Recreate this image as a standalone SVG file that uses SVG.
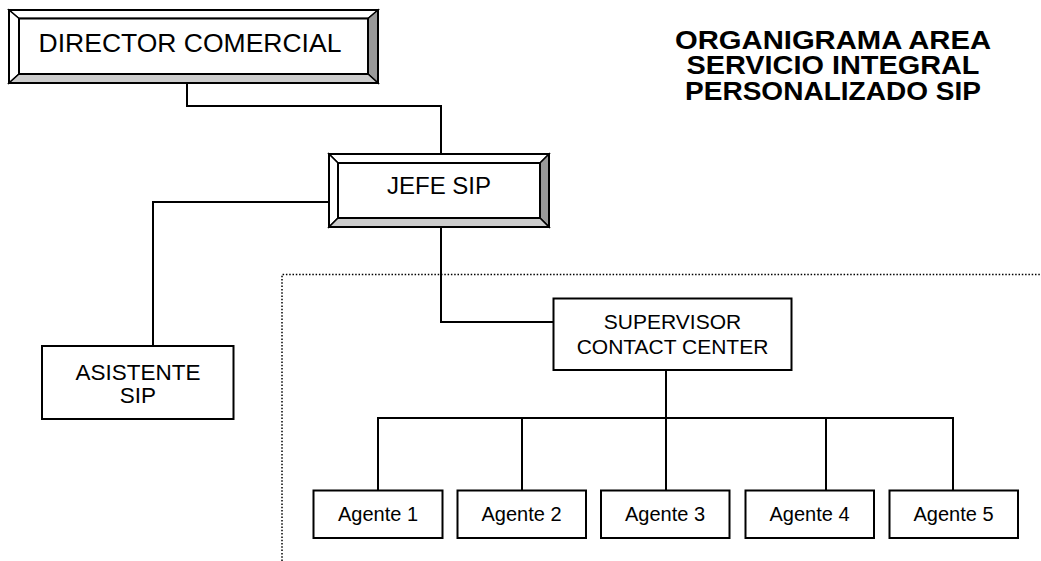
<svg xmlns="http://www.w3.org/2000/svg" width="1041" height="561" viewBox="0 0 1041 561">
  <style>
    .box { fill: #ffffff; stroke: #000000; stroke-width: 2; }
    .bevel-light { fill: #ffffff; stroke: #000000; stroke-width: 1.5; stroke-linejoin: miter; }
    .bevel-right { fill: #999999; stroke: #000000; stroke-width: 1.5; }
    .bevel-bottom { fill: #cccccc; stroke: #000000; stroke-width: 1.5; }
    .lbl { font-family: "Liberation Sans", Arial, sans-serif; fill: #000000; text-anchor: middle; }
    .title { font-family: "Liberation Sans", Arial, sans-serif; font-weight: bold; font-size: 26px; fill: #000000; text-anchor: middle; }
    .conn { fill: none; stroke: #000000; stroke-width: 2; }
    .dots { fill: none; stroke: #000000; stroke-width: 1.5; stroke-dasharray: 1.5 1.8; }
  </style>

  <rect width="1041" height="561" fill="#ffffff"/>

  <!-- dotted boundary of the contact center area -->
  <path class="dots" d="M282,561 V274.5 H1041"/>

  <!-- connectors -->
  <g id="connectors">
    <path class="conn" d="M187,83 V106 H441 V154"/>
    <path class="conn" d="M329,202 H153 V346"/>
    <path class="conn" d="M441,227 V322 H553"/>
    <path class="conn" d="M666,370 V418"/>
    <path class="conn" d="M378,490 V418 H953 V490"/>
    <path class="conn" d="M522,418 V490"/>
    <path class="conn" d="M666,418 V490"/>
    <path class="conn" d="M826,418 V490"/>
  </g>

  <!-- bevelled box: DIRECTOR COMERCIAL -->
  <g id="director">
    <polygon class="bevel-light" points="9,10 378,10 368,18.5 19,18.5"/>
    <polygon class="bevel-light" points="9,10 19,18.5 19,74 9,83"/>
    <polygon class="bevel-right" points="378,10 378,83 368,74 368,18.5"/>
    <polygon class="bevel-bottom" points="9,83 19,74 368,74 378,83"/>
    <rect x="9" y="10" width="369" height="73" fill="none" stroke="#000" stroke-width="2"/>
    <rect class="box" x="19" y="18.5" width="349" height="55.5"/>
    <text class="lbl" x="190" y="52" font-size="26.5">DIRECTOR COMERCIAL</text>
  </g>

  <!-- bevelled box: JEFE SIP -->
  <g id="jefe">
    <polygon class="bevel-light" points="329,154 549,154 540,163 338,163"/>
    <polygon class="bevel-light" points="329,154 338,163 338,218 329,227"/>
    <polygon class="bevel-right" points="549,154 549,227 540,218 540,163"/>
    <polygon class="bevel-bottom" points="329,227 338,218 540,218 549,227"/>
    <rect x="329" y="154" width="220" height="73" fill="none" stroke="#000" stroke-width="2"/>
    <rect class="box" x="338" y="163" width="202" height="55"/>
    <text class="lbl" x="439" y="194" font-size="24">JEFE SIP</text>
  </g>

  <g id="asistente">
    <rect class="box" x="42" y="346" width="191.5" height="73"/>
    <text class="lbl" x="138" y="380" font-size="22.5">ASISTENTE</text>
    <text class="lbl" x="138" y="403" font-size="22.5">SIP</text>
  </g>

  <g id="supervisor">
    <rect class="box" x="553.5" y="298.5" width="238" height="71.5"/>
    <text class="lbl" x="672.5" y="328.5" font-size="21">SUPERVISOR</text>
    <text class="lbl" x="672.5" y="353.5" font-size="21">CONTACT CENTER</text>
  </g>

  <g id="agente1">
    <rect class="box" x="313.5" y="490.5" width="129" height="47.5"/>
    <text class="lbl" x="378" y="521" font-size="20">Agente 1</text>
  </g>
  <g id="agente2">
    <rect class="box" x="457.5" y="490.5" width="128.5" height="47.5"/>
    <text class="lbl" x="521.5" y="521" font-size="20">Agente 2</text>
  </g>
  <g id="agente3">
    <rect class="box" x="601" y="490.5" width="128.5" height="47.5"/>
    <text class="lbl" x="665" y="521" font-size="20">Agente 3</text>
  </g>
  <g id="agente4">
    <rect class="box" x="745.5" y="490.5" width="128.5" height="47.5"/>
    <text class="lbl" x="809.5" y="521" font-size="20">Agente 4</text>
  </g>
  <g id="agente5">
    <rect class="box" x="889.5" y="490.5" width="128.5" height="47.5"/>
    <text class="lbl" x="953.5" y="521" font-size="20">Agente 5</text>
  </g>

  <!-- heading, stretched slightly to the printed line widths -->
  <g id="heading">
    <text class="title" x="833" y="48.5" textLength="316" lengthAdjust="spacingAndGlyphs">ORGANIGRAMA AREA</text>
    <text class="title" x="833" y="74" textLength="293" lengthAdjust="spacingAndGlyphs">SERVICIO INTEGRAL</text>
    <text class="title" x="833" y="99.5" textLength="296" lengthAdjust="spacingAndGlyphs">PERSONALIZADO SIP</text>
  </g>
</svg>
